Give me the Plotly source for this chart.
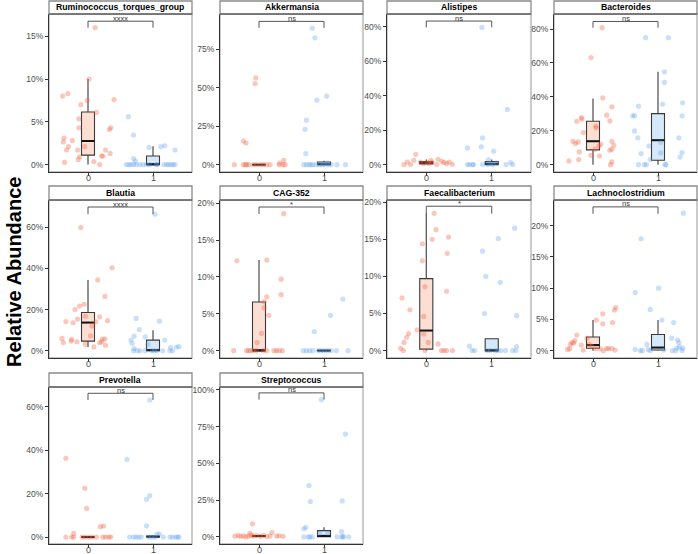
import plotly.graph_objects as go

W, H = 698, 554

# ---------------- data (percent values) ----------------
taxa = ["Ruminococcus_torques_group", "Akkermansia", "Alistipes", "Bacteroides",
        "Blautia", "CAG-352", "Faecalibacterium", "Lachnoclostridium",
        "Prevotella", "Streptococcus"]
groups = [0, 1]
group_labels = ["0", "1"]

# group 0 values / horizontal jitter offsets
g0_vals = [
    [16.0, 10.0, 8.0, 8.3, 7.6, 7.0, 7.5, 6.1, 5.35, 4.3, 4.1, 4.3, 3.1, 2.65, 2.8, 2.1, 1.7, 1.7, 1.7, 1.0, 1.0, 1.3, 0.9, 0.6, 0.25, 0.35, 0.0, 2.1],
    [52.7, 56.4, 15.4, 14.1, 2.8, 1.1, 0, 0, 0, 0, 0, 0, 0, 0, 0, 0, 0, 0, 0, 0],
    [6.0, 1.5, 0, 0, 2.5, 1.5, 2.5, 3.1, 1.9, 1.2, 0.6, 1.5, 0, 0.2, 0.6, 0.8, 1.0, 1.3],
    [80.8, 63.2, 39.4, 34.1, 26.8, 25.6, 29.2, 25.8, 27.8, 22.7, 21.7, 18.9, 13.8, 12.4, 13.4, 12.0, 13.8, 11.4, 9.1, 8.5, 11.0, 9.1, 7.5, 5.1, 5.5, 3.0, 2.2, 1.6, 0.0],
    [59.8, 40.3, 34.4, 26.4, 22.6, 21.7, 20.0, 14.6, 14.2, 13.6, 15.4, 16.8, 16.5, 14.1, 12.0, 7.3, 6.0, 4.0, 5.5, 4.7, 4.4, 5.7, 5.7, 4.4, 3.9, 2.7, 3.2, 1.9],
    [18.6, 12.2, 12.3, 9.7, 7.6, 7.3, 6.65, 5.8, 4.8, 2.35, 1.1, 0, 0, 0, 0, 0, 0, 0, 0, 0, 0, 0, 0],
    [18.5, 16.3, 15.0, 15.3, 13.1, 14.4, 12.1, 8.0, 8.6, 7.1, 5.5, 4.6, 2.8, 2.3, 1.8, 1.1, 2.25, 1.1, 0.9, 0.3, 0, 0, 0, 0, 0, 0],
    [6.9, 6.5, 4.5, 5.9, 4.9, 4.3, 2.5, 1.3, 1.2, 1.6, 1.0, 0.3, 0.2, 0.9, 0.1, 1.0, 0.75, 0.3, 0.3, 0, 0.35, 0.35, 0.35, 0.1, 2.0],
    [36.3, 22.5, 13.2, 4.8, 5.1, 1.7, 0, 0, 0, 0, 0, 0, 0, 0, 0, 0, 0, 0],
    [8.9, 2.5, 3.0, 0.5, 1.0, 0.3, 0.8, 0, 0.5, 1.2, 0.7, 0.9, 0.4, 1.0, 0.3, 0.6, 0.6, 0.8, 0.4],
]
g0_jit = [
    [0.11, 0.015, -0.39, -0.31, 0.40, -0.11, -0.01, 0.13, -0.14, -0.14, 0.33, 0.35, -0.37, -0.38, -0.24, -0.30, -0.33, -0.16, 0.27, 0.21, 0.23, 0.34, -0.13, -0.15, -0.36, 0.09, 0.18, -0.05],
    [-0.06, -0.05, -0.24, -0.20, 0.38, 0.32, 0.37, -0.38, -0.24, -0.21, -0.19, -0.16, -0.09, -0.04, 0.02, 0.07, 0.12, 0.17, 0.31, 0.40],
    [-0.16, -0.29, -0.34, -0.24, -0.19, -0.09, 0.07, 0.18, 0.24, 0.27, 0.31, 0.35, 0.16, 0.40, -0.04, 0.04, 0.02, 0.09],
    [0.14, -0.03, 0.15, 0.29, -0.17, -0.25, 0.21, 0.26, -0.18, 0.04, 0.05, -0.15, -0.31, -0.27, -0.23, 0.12, 0.29, 0.32, 0.29, 0.26, 0.09, 0.03, -0.21, 0.10, -0.03, -0.22, -0.37, 0.29, 0.27],
    [-0.11, 0.37, 0.15, 0.26, -0.06, -0.13, -0.20, 0.30, -0.34, -0.23, -0.16, -0.04, 0.18, 0.12, 0.06, 0.04, -0.40, -0.38, -0.25, -0.26, -0.17, 0.22, 0.26, 0.21, 0.18, 0.27, -0.04, 0.09],
    [0.38, -0.34, 0.12, 0.34, 0.34, 0.12, 0.08, 0.08, 0.15, 0.04, -0.03, -0.39, -0.19, -0.16, -0.13, -0.09, -0.04, 0.07, 0.12, 0.23, 0.27, 0.31, 0.36],
    [0.12, 0.15, 0.09, 0.34, 0.32, -0.06, -0.06, 0.31, -0.02, -0.37, -0.25, -0.04, -0.14, -0.27, -0.30, -0.34, -0.04, 0.03, 0.18, -0.39, -0.35, -0.02, 0.23, 0.27, 0.31, 0.40],
    [0.35, 0.33, 0.30, 0.15, 0.05, 0.15, -0.25, -0.32, -0.30, -0.28, -0.35, -0.36, -0.39, -0.18, -0.15, -0.06, -0.02, 0.04, 0.11, 0.16, 0.21, 0.24, 0.29, 0.34, -0.09],
    [-0.34, -0.05, -0.02, 0.19, 0.24, -0.22, -0.34, -0.25, -0.22, -0.09, -0.04, 0.02, 0.07, 0.13, 0.23, 0.27, 0.32, 0.35],
    [-0.10, -0.14, 0.20, -0.37, -0.32, -0.28, -0.24, -0.20, -0.16, -0.12, -0.09, -0.04, 0.02, 0.07, 0.12, 0.17, 0.27, 0.31, 0.37],
]

# group 1 values / horizontal jitter offsets
g1_vals = [
    [5.6, 3.45, 0.7, 0.4, 2.0, 2.1, 2.2, 1.7, 0, 0, 0, 0, 0, 0, 0, 0, 0, 0, 0, 0, 0, 0, 0, 0, 0],
    [88.7, 82.4, 44.5, 41.9, 28.9, 23.0, 7.2, 0, 0, 0, 0, 0, 0, 0, 0, 0, 0, 0, 0, 0.5, 1.0],
    [79.6, 32.0, 15.5, 10.3, 9.7, 7.8, 2.9, 1.2, 0, 0, 0, 0, 0, 0, 0, 0, 0, 0.5, 1.0],
    [74.9, 74.9, 54.8, 48.5, 36.5, 35.7, 34.5, 28.8, 28.8, 28.8, 19.9, 15.8, 15.8, 11.0, 13.0, 6.5, 6.9, 7.1, 4.5, 3.0, 0, 0, 0, 0, 0],
    [66.3, 15.7, 14.4, 10.3, 7.1, 6.8, 5.2, 3.6, 3.2, 5.2, 1.1, 1.6, 1.8, 2.0, 0, 0, 0, 0, 0, 0, 0, 0, 0, 0],
    [7.0, 4.8, 2.6, 0, 0, 0, 0, 0, 0, 0, 0, 0, 0, 0],
    [16.5, 15.1, 13.4, 10.0, 9.2, 5.0, 4.7, 0.6, 0.55, 0, 0, 0, 0, 0, 0, 0, 0, 0, 0],
    [22.0, 17.9, 10.0, 9.3, 6.6, 4.9, 4.5, 1.0, 2.0, 1.7, 1.3, 0.6, 0.4, 0.2, 0, 0, 0.2, 0, 0.1, 0, 0, 0, 0.4],
    [63.2, 35.8, 19.1, 17.4, 5.2, 1.4, 1.4, 0, 0, 0, 0, 0, 0, 0, 0, 0, 0, 0, 0, 0, 0],
    [93.4, 70.0, 35.0, 24.1, 24.5, 6.6, 5.5, 3.6, 2.5, 2.5, 0, 0, 0, 0, 0, 0, 0, 0, 0.3],
]
g1_jit = [
    [-0.38, -0.30, -0.30, -0.27, -0.06, 0.12, 0.18, 0.34, -0.41, -0.37, -0.34, -0.30, -0.26, -0.20, -0.15, -0.10, -0.05, 0.06, 0.17, 0.21, 0.24, 0.28, 0.31, 0.34, 0.05],
    [-0.18, -0.14, 0.04, -0.11, -0.27, -0.29, -0.28, -0.31, -0.27, -0.23, -0.20, -0.17, -0.12, -0.07, -0.02, 0.06, 0.11, 0.20, 0.33, 0.0, 0.05],
    [-0.15, 0.24, -0.14, -0.16, -0.37, 0.03, -0.05, 0.29, 0.32, -0.37, -0.34, -0.29, -0.28, -0.14, -0.06, 0.02, 0.22, -0.01, 0.07],
    [-0.19, 0.16, 0.10, 0.10, 0.38, 0.07, -0.30, -0.39, -0.36, 0.37, -0.36, -0.31, 0.32, -0.14, 0.04, -0.26, 0.04, 0.37, 0.34, -0.12, -0.30, -0.21, -0.18, 0.11, 0.12],
    [0.03, -0.26, 0.10, -0.21, -0.29, -0.12, -0.34, -0.32, -0.08, 0.18, -0.29, 0.27, 0.36, 0.40, -0.30, -0.24, -0.20, -0.12, -0.02, 0.02, 0.06, 0.15, 0.26, 0.30],
    [0.29, 0.10, -0.15, -0.32, -0.27, -0.22, -0.17, -0.09, -0.04, 0.01, 0.06, 0.11, 0.19, 0.37],
    [0.35, 0.10, -0.14, -0.09, 0.13, -0.11, 0.38, -0.34, 0.38, -0.30, -0.26, -0.07, -0.02, 0.06, 0.09, 0.14, 0.21, 0.32, 0.37],
    [0.39, -0.26, 0.01, -0.35, -0.12, 0.06, 0.24, -0.17, 0.21, 0.30, 0.32, 0.33, 0.29, -0.35, -0.27, -0.24, -0.15, -0.12, 0.09, 0.22, 0.27, 0.37, 0.38],
    [-0.05, -0.40, -0.05, -0.10, -0.10, 0.06, 0.10, -0.36, -0.30, -0.26, -0.22, -0.18, -0.07, -0.02, 0.03, 0.16, 0.26, 0.30, 0.35, 0.38, 0.40],
    [-0.04, 0.33, -0.23, -0.21, 0.28, -0.28, -0.31, 0.27, -0.07, 0.06, -0.31, -0.24, -0.22, -0.18, 0.20, 0.27, 0.30, 0.38, 0.29],
]

# box statistics [lower whisker, q1, median, q3, upper whisker]
box0 = [
    [0, 1.1, 2.75, 6.15, 10.0],
    [0, 0, 0, 0.1, 0.1],
    [0, 0.3, 1.0, 1.7, 2.9],
    [0, 8.7, 13.8, 25.6, 39.0],
    [1.9, 4.7, 13.7, 18.6, 34.4],
    [0, 0, 0, 6.6, 12.3],
    [0, 0.2, 2.7, 9.7, 18.5],
    [0, 0.4, 0.9, 2.2, 4.9],
    [0, 0, 0, 0.05, 0.05],
    [0.1, 0.3, 0.6, 0.9, 1.5],
]
box1 = [
    [0, 0, 0, 1.0, 2.15],
    [0, 0, 0.3, 1.7, 2.5],
    [0, 0, 0.5, 1.8, 3.0],
    [0, 2.6, 14.4, 30.1, 54.8],
    [0, 0, 0.3, 5.2, 10.0],
    [0, 0, 0, 0.05, 0.05],
    [0, 0, 0, 1.6, 1.6],
    [0, 0.1, 0.5, 2.6, 4.9],
    [0, 0, 0.2, 0.5, 0.8],
    [0, 0.2, 0.7, 4.3, 6.6],
]

# significance brackets: top, tick end, label
br_top = [16.76, 93.1, 83.3, 84.5, 69.8, 19.5, 19.46, 23.0, 66.3, 98.0]
br_end = [16.0, 88.9, 79.6, 80.8, 66.3, 18.55, 18.47, 21.9, 63.2, 93.4]
br_lab = ["xxxx", "ns", "ns", "ns", "xxxx", "*", "*", "ns", "ns", "ns"]

y_ranges = [[-0.87, 17.6], [-4.75, 97.9], [-4.3, 87.4], [-4.35, 88.9],
            [-3.5, 73.2], [-1.0, 20.45], [-1.0, 20.3], [-1.17, 24.1],
            [-3.2, 69.2], [-4.8, 102.0]]
y_dticks = [5, 25, 20, 20, 20, 5, 5, 5, 20, 25]

# ---------------- layout geometry (pixels) ----------------
col_px = [(49, 192), (220, 363), (387, 531), (554, 697)]
row_px = [(14, 172), (200, 358), (387, 544)]
strip_px = [(1, 14), (186, 200), (373, 387)]

pt_col = ["rgba(240,100,70,0.36)", "rgba(90,160,235,0.32)"]
box_fill = ["rgba(250,160,130,0.35)", "rgba(150,200,245,0.4)"]
BOXW = 0.2

fig = go.Figure()
shapes, annots = [], []
FONT = "Liberation Sans, Arial, sans-serif"

for i, name in enumerate(taxa):
    r, c = divmod(i, 4)
    n = i + 1
    xa = "x" if n == 1 else f"x{n}"
    ya = "y" if n == 1 else f"y{n}"
    x0p, x1p = col_px[c]
    y0p, y1p = row_px[r]
    s0, s1 = strip_px[r]

    fig.layout[f"xaxis{'' if n == 1 else n}"] = dict(
        domain=[x0p / W, x1p / W], anchor=ya, range=[-0.6, 1.6], automargin=False,
        tickvals=groups, showticklabels=False,
        showgrid=False, zeroline=False, showline=True, linecolor="#333333", linewidth=1.1,
        ticks="outside", ticklen=3, tickcolor="#333333", tickwidth=1, fixedrange=True)
    fig.layout[f"yaxis{'' if n == 1 else n}"] = dict(
        domain=[1 - y1p / H, 1 - y0p / H], anchor=xa, range=y_ranges[i], automargin=False,
        tick0=0, dtick=y_dticks[i], ticksuffix="%",
        showgrid=False, zeroline=False, showline=True, linecolor="#333333", linewidth=1.1,
        ticks="outside", ticklen=3, tickcolor="#333333", tickwidth=1,
        tickfont=dict(size=8.5, color="#4d4d4d", family=FONT), fixedrange=True)

    # x category labels just below the axis
    for g, lab in zip(groups, group_labels):
        annots.append(dict(xref=xa, yref="paper", x=g, y=1 - y1p / H, text=lab,
                           showarrow=False, xanchor="center", yanchor="middle",
                           yshift=-6, font=dict(size=9, color="#4d4d4d", family=FONT)))

    # panel frame + strip
    shapes.append(dict(type="rect", xref="paper", yref="paper", layer="below",
                       x0=x0p / W, x1=x1p / W, y0=1 - y1p / H, y1=1 - y0p / H,
                       line=dict(color="#b0b0b0", width=1.3), fillcolor="white"))
    shapes.append(dict(type="rect", xref="paper", yref="paper", layer="above",
                       x0=x0p / W, x1=x1p / W, y0=1 - s1 / H, y1=1 - s0 / H,
                       line=dict(color="#8a8a8a", width=1.3), fillcolor="white"))
    shapes.append(dict(type="line", xref="paper", yref="paper", layer="above",
                       x0=x0p / W, x1=x1p / W, y0=1 - s1 / H, y1=1 - s1 / H,
                       line=dict(color="#555555", width=1.2)))
    annots.append(dict(xref="paper", yref="paper", x=(x0p + x1p) / 2 / W,
                       y=1 - (s0 + s1) / 2 / H, text=f"<b>{name}</b>", showarrow=False,
                       xanchor="center", yanchor="middle",
                       font=dict(size=8.7, color="black", family=FONT)))

    vals = [g0_vals[i], g1_vals[i]]
    jits = [g0_jit[i], g1_jit[i]]
    boxes = [box0[i], box1[i]]
    for g in groups:
        lo, q1, med, q3, hi = boxes[g]
        fig.add_trace(go.Box(
            x=[g], q1=[q1], median=[med], q3=[q3], lowerfence=[lo], upperfence=[hi],
            width=BOXW, whiskerwidth=0, fillcolor=box_fill[g],
            line=dict(color="#3a3a3a", width=1.1), boxpoints=False,
            xaxis=xa, yaxis=ya, showlegend=False, hoverinfo="skip"))
        fig.add_trace(go.Scatter(
            x=[g - BOXW / 2, g + BOXW / 2], y=[med, med], mode="lines",
            line=dict(color="#111111", width=2), xaxis=xa, yaxis=ya,
            showlegend=False, hoverinfo="skip"))
        fig.add_trace(go.Scatter(
            x=[g + j for j in jits[g]], y=vals[g], mode="markers",
            marker=dict(size=5.2, color=pt_col[g], line=dict(width=0)),
            xaxis=xa, yaxis=ya, showlegend=False, hoverinfo="skip"))

    # significance bracket
    fig.add_trace(go.Scatter(
        x=[groups[0], groups[0], groups[1], groups[1]],
        y=[br_end[i], br_top[i], br_top[i], br_end[i]], mode="lines",
        line=dict(color="#555555", width=1), xaxis=xa, yaxis=ya,
        showlegend=False, hoverinfo="skip"))
    annots.append(dict(xref=xa, yref=ya, x=0.5, y=br_top[i], text=br_lab[i],
                       showarrow=False, xanchor="center", yanchor="bottom", yshift=-3.5,
                       font=dict(size=7.5, color="#333333", family=FONT)))

annots.append(dict(xref="paper", yref="paper", x=14 / W, y=1 - 272 / H,
                   text="<b>Relative Abundance</b>", textangle=-90, showarrow=False,
                   xanchor="center", yanchor="middle",
                   font=dict(size=20, color="black", family=FONT)))

fig.update_layout(width=W, height=H, margin=dict(l=0, r=0, t=0, b=0),
                  paper_bgcolor="white", plot_bgcolor="rgba(0,0,0,0)",
                  shapes=shapes, annotations=annots, showlegend=False,
                  font=dict(family=FONT))
fig.write_html("out.html", config={"displayModeBar": False},
               post_script="document.body.style.margin='0';document.body.style.padding='0';")
